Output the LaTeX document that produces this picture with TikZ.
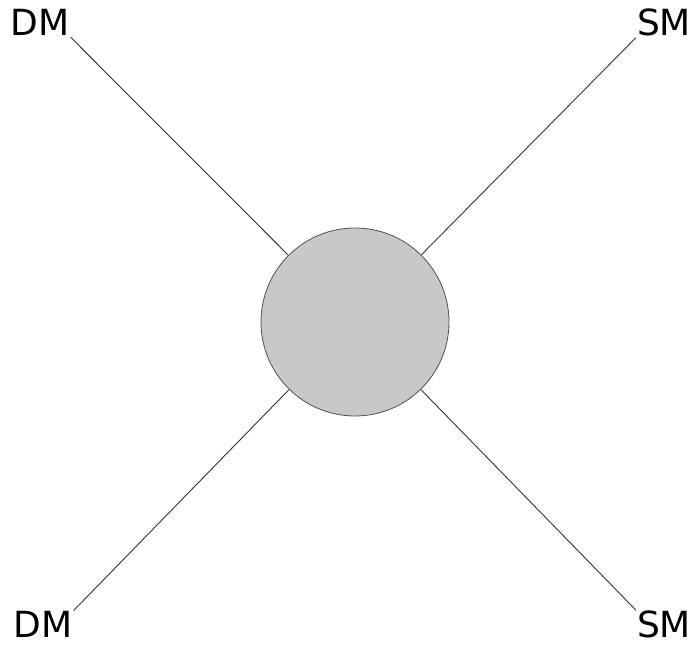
\documentclass[tikz,border=0pt]{standalone}
\usepackage{fontspec}
\setmainfont{DejaVu Sans}
\usepackage{xcolor}
\usepackage{tikz}
\usetikzlibrary{positioning}
\definecolor{blobgray}{HTML}{C8C8C8}
\definecolor{edgeink}{HTML}{505050}
\definecolor{lineink}{HTML}{333333}

\begin{document}
\begin{tikzpicture}[
  x=1pt, y=1pt,
  meson/.style={font=\fontsize{36}{40}\selectfont, inner sep=1pt, anchor=base},
  blob/.style={circle, draw=edgeink, fill=blobgray, line width=0.8pt, minimum size=188pt, inner sep=0pt},
  leg/.style={draw=lineink, line width=0.9pt}
]
  \useasboundingbox (0,0) rectangle (697,645);

  % Central vertex
  \node[blob] (vtx) at (355,323) {};

  % Outer labels
  \node[meson] (dmtop) at (40,609) {DM};
  \node[meson] (smtop) at (664,609) {SM};
  \node[meson] (dmbot) at (43,7) {DM};
  \node[meson] (smbot) at (664,7) {SM};

  % Legs
  \draw[leg] (dmtop.south east) -- (vtx);
  \draw[leg] (smtop.south west) -- (vtx);
  \draw[leg] (dmbot.north east) -- (vtx);
  \draw[leg] (smbot.north west) -- (vtx);
\end{tikzpicture}
\end{document}
